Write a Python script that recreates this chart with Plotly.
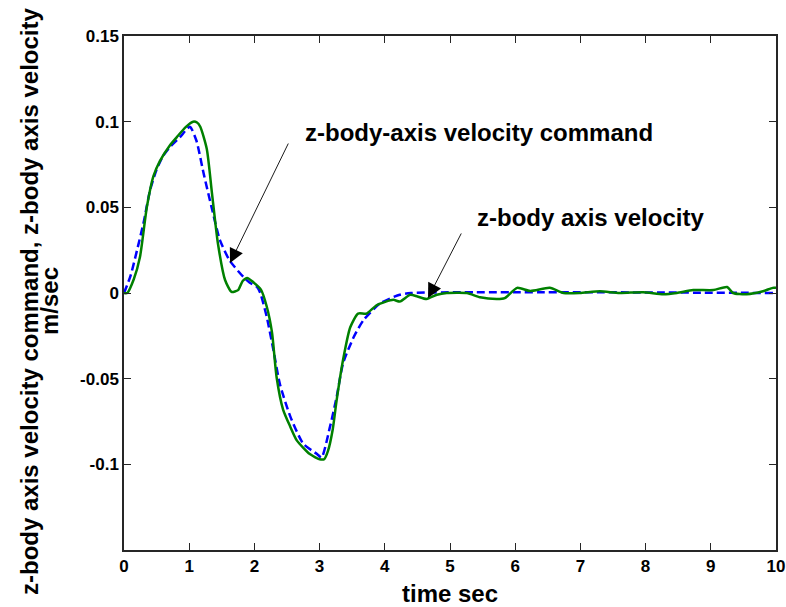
import plotly.graph_objects as go

# z-body axis velocity command (m/sec) vs time (sec)
cmd_t = [0.0, 0.1, 0.2, 0.3, 0.4, 0.5, 0.6, 0.7, 0.86, 1.01, 1.11, 1.22, 1.35, 1.47,
         1.62, 1.83, 1.93, 2.04, 2.09, 2.19, 2.29, 2.39, 2.55, 2.75, 2.96, 3.03, 3.16,
         3.26, 3.36, 3.52, 3.67, 3.93, 4.23, 4.4, 10.0]
cmd_v = [0.0, 0.01, 0.025, 0.041, 0.06, 0.072, 0.08, 0.085, 0.091, 0.097, 0.089, 0.07,
         0.049, 0.031, 0.019, 0.0094, 0.006, 0.0035, 0.0, -0.014, -0.033, -0.053, -0.072,
         -0.088, -0.094, -0.096, -0.078, -0.061, -0.041, -0.026, -0.016, -0.006, -0.001,
         0.0, 0.0]

# measured z-body axis velocity (m/sec) vs time (sec)
vel_t = [0.0, 0.05, 0.15, 0.245, 0.35, 0.45, 0.55, 0.7, 0.81, 0.95, 1.06, 1.12, 1.17,
         1.27, 1.35, 1.44, 1.55, 1.65, 1.75, 1.82, 1.89, 1.98, 2.1, 2.19, 2.27, 2.34,
         2.44, 2.55, 2.65, 2.85, 3.0, 3.07, 3.13, 3.2, 3.26, 3.36, 3.47, 3.59, 3.72,
         3.88, 4.13, 4.23, 4.39, 4.5, 4.64, 4.8, 4.95, 5.26, 5.46, 5.72, 5.84, 6.03,
         6.23, 6.53, 6.74, 6.99, 7.3, 7.6, 7.96, 8.27, 8.48, 8.73, 9.04, 9.25, 9.34,
         9.55, 9.8, 9.95, 10.0]
vel_v = [0.0, 0.0, 0.008, 0.021, 0.05, 0.068, 0.077, 0.086, 0.091, 0.097, 0.1, 0.0995,
         0.097, 0.084, 0.058, 0.029, 0.0076, 0.0006, 0.0017, 0.007, 0.0088, 0.0064, 0.002,
         -0.008, -0.023, -0.049, -0.068, -0.078, -0.086, -0.094, -0.097, -0.097, -0.092,
         -0.08, -0.063, -0.039, -0.02, -0.012, -0.012, -0.007, -0.004, -0.005, -0.001,
         -0.002, -0.0035, -0.001, 0.0, 0.0, -0.0025, -0.0035, -0.003, 0.003, 0.0012,
         0.003, 0.0, 0.0, 0.001, 0.0, 0.0005, -0.0007, 0.0, 0.0017, 0.0017, 0.0035, 0.0,
         -0.0007, 0.001, 0.003, 0.003]

x_ticks = list(range(0, 11))
y_ticks = [-0.1, -0.05, 0, 0.05, 0.1, 0.15]
y_tick_text = ["-0.1", "-0.05", "0", "0.05", "0.1", "0.15"]

FONT = "Liberation Sans, Arial, Helvetica, sans-serif"

fig = go.Figure()
fig.add_trace(go.Scatter(x=cmd_t, y=cmd_v, mode="lines",
                         line=dict(color="#0000ff", width=2.5, dash="8px,4px",
                                   shape="spline", smoothing=0.6)))
fig.add_trace(go.Scatter(x=vel_t, y=vel_v, mode="lines",
                         line=dict(color="#008000", width=2.5,
                                   shape="spline", smoothing=0.6)))

axis_common = dict(showline=True, linecolor="#262626", linewidth=1.5, mirror="allticks",
                   ticks="inside", ticklen=7, tickwidth=1.2, tickcolor="#262626",
                   showgrid=False, zeroline=False, automargin=False,
                   ticklabeloverflow="allow",
                   tickfont=dict(family=FONT, size=17, color="black", weight="bold"))

fig.update_xaxes(range=[0, 10], tickvals=x_ticks, **axis_common)
fig.update_yaxes(range=[-0.15, 0.15], tickvals=y_ticks, ticktext=y_tick_text, **axis_common)

label_font = dict(family=FONT, size=24, color="black", weight="bold")

# pointer arrows for the two curve labels
fig.add_annotation(x=1.626, y=0.0175, xref="x", yref="y", ax=59, ay=-121,
                   text="", showarrow=True, arrowhead=2, arrowsize=3.2,
                   arrowwidth=0.9, arrowcolor="black")
fig.add_annotation(x=4.663, y=-0.0029, xref="x", yref="y", ax=34, ay=-66,
                   text="", showarrow=True, arrowhead=2, arrowsize=3.2,
                   arrowwidth=0.9, arrowcolor="black")
fig.add_annotation(x=2.745, y=0.0936, xref="x", yref="y", xanchor="left", yanchor="middle",
                   text="z-body-axis velocity command", showarrow=False, font=label_font)
fig.add_annotation(x=5.383, y=0.0439, xref="x", yref="y", xanchor="left", yanchor="middle",
                   text="z-body axis velocity", showarrow=False, font=label_font)

# axis titles
fig.add_annotation(x=0, y=0.5, xref="paper", yref="paper", xshift=-95, yshift=-8,
                   textangle=-90, xanchor="center", yanchor="middle", showarrow=False,
                   text="z-body axis velocity command, z-body axis velocity", font=label_font)
fig.add_annotation(x=0, y=0.5, xref="paper", yref="paper", xshift=-75, yshift=-8,
                   textangle=-90, xanchor="center", yanchor="middle", showarrow=False,
                   text="m/sec", font=label_font)
fig.add_annotation(x=0.5, y=0, xref="paper", yref="paper", yshift=-43,
                   xanchor="center", yanchor="middle", showarrow=False,
                   text="time sec", font=label_font)

fig.update_layout(width=786, height=607, showlegend=False,
                  margin=dict(l=124, r=10, t=36, b=57),
                  paper_bgcolor="white", plot_bgcolor="white")

fig.write_html("out.html")
